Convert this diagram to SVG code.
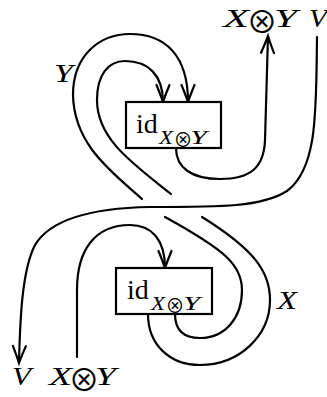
<svg xmlns="http://www.w3.org/2000/svg" width="327" height="397" viewBox="0 0 327 397">
<style>
.s{fill:none;stroke:#000;stroke-width:2.2;stroke-linecap:round}
.b{fill:#fff;stroke:#000;stroke-width:2.2}
.l{font-family:"Liberation Serif","DejaVu Serif",serif;font-style:italic;font-size:26px;fill:#000}
.id{font-family:"Liberation Serif","DejaVu Serif",serif;font-size:28px;fill:#000}
.sub{font-family:"Liberation Serif","DejaVu Serif",serif;font-style:italic;font-size:19px}
.o{font-family:"Noto Sans CJK JP","DejaVu Sans",sans-serif;font-style:normal;text-anchor:middle}
</style>
<defs>
<marker id="ah" markerUnits="userSpaceOnUse" viewBox="-20 -10 22 20" markerWidth="22" markerHeight="20" refX="0" refY="0" orient="auto" overflow="visible">
<path d="M-17,-6.5 Q-6,-2 0,0 Q-6,2 -17,6.5" fill="none" stroke="#000" stroke-width="2.2" stroke-linecap="round"/>
</marker>
</defs>
<g id="connectors">
<path class="s" d="M317,37 C316,110 318,168 287,191 C262,207 222,207 150,207 C90,208 50,220 35,245 C22,270 20,320 19,363" marker-end="url(#ah)"/>
<path class="s" d="M142,199 C112,172 74,145 73,95 C73,55 100,34 130,34 C165,34 188,55 188,102" marker-end="url(#ah)"/>
<path class="s" d="M171,194 C135,165 97,140 97,100 C97,75 108,61 125,61 C148,61 163,75 163,102" marker-end="url(#ah)"/>
<path class="s" d="M176,148 C176,168 192,179 220,179 C250,179 264,168 265,140 L268,36" marker-end="url(#ah)"/>
<path class="s" d="M175,314 C175,332 186,338 200,338 C225,338 242,318 242,290 C242,265 225,250 165,217"/>
<path class="s" d="M148,314 C148,345 170,365 200,365 C240,365 270,335 270,300 C270,272 255,250 202,217"/>
<path class="s" d="M77,357 L77,290 C77,250 95,225 130,225 C152,225 165,240 165,268" marker-end="url(#ah)"/>
</g>
<g id="box-top">
<rect class="b" x="126" y="102" width="95" height="46"/>
<text class="id" x="136" y="133">id<tspan class="sub" x="159" y="144" textLength="14" lengthAdjust="spacingAndGlyphs">X</tspan><tspan class="o" x="183" y="147" font-size="19">⊗</tspan><tspan class="sub" x="190" y="144" textLength="17" lengthAdjust="spacingAndGlyphs">Y</tspan></text>
</g>
<g id="box-bottom">
<rect class="b" x="116" y="268" width="96" height="46"/>
<text class="id" x="127" y="299">id<tspan class="sub" x="151" y="310" textLength="14" lengthAdjust="spacingAndGlyphs">X</tspan><tspan class="o" x="175" y="313" font-size="19">⊗</tspan><tspan class="sub" x="183" y="310" textLength="17" lengthAdjust="spacingAndGlyphs">Y</tspan></text>
</g>
<g id="labels">
<text class="l" y="27"><tspan x="223" textLength="26" lengthAdjust="spacingAndGlyphs">X</tspan><tspan class="o" x="262" y="33" font-size="31">⊗</tspan><tspan x="274" y="27" textLength="23" lengthAdjust="spacingAndGlyphs">Y</tspan></text>
<text class="l" x="309" y="27" textLength="18" lengthAdjust="spacingAndGlyphs">V</text>
<text class="l" x="54" y="82" textLength="19" lengthAdjust="spacingAndGlyphs">Y</text>
<text class="l" x="277" y="309" textLength="20" lengthAdjust="spacingAndGlyphs">X</text>
<text class="l" x="12" y="385" textLength="19" lengthAdjust="spacingAndGlyphs">V</text>
<text class="l" y="385"><tspan x="49" textLength="23" lengthAdjust="spacingAndGlyphs">X</tspan><tspan class="o" x="84" y="391" font-size="31">⊗</tspan><tspan x="95" y="385" textLength="21" lengthAdjust="spacingAndGlyphs">Y</tspan></text>
</g>
</svg>
